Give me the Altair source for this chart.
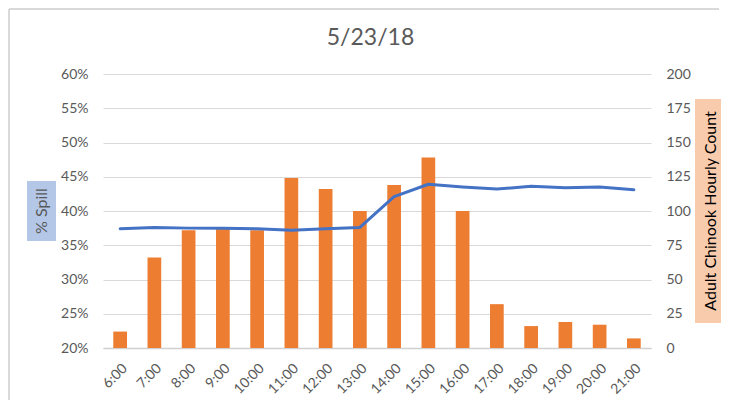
import altair as alt
import pandas as pd

hours = ["6:00", "7:00", "8:00", "9:00", "10:00", "11:00", "12:00", "13:00",
         "14:00", "15:00", "16:00", "17:00", "18:00", "19:00", "20:00", "21:00"]
chinook_count = [12, 66, 86, 87, 86, 124, 116, 100, 119, 139, 100, 32, 16, 19, 17, 7]
pct_spill = [37.4, 37.6, 37.5, 37.5, 37.4, 37.2, 37.4, 37.6, 42.1, 43.9, 43.5, 43.2,
             43.6, 43.4, 43.5, 43.1]
chart_title = "5/23/18"
left_title = "% Spill"
right_title = "Adult Chinook Hourly Count"

df = pd.DataFrame({"hour": hours, "count": chinook_count,
                   "spill": [v / 100 for v in pct_spill]})

FONT = "Lato"
GREY = "#595959"
W, H = 548, 274

x_enc = alt.X("hour:N", sort=hours, title=None,
              scale=alt.Scale(paddingInner=0.6, paddingOuter=0.3),
              axis=alt.Axis(labelAngle=-45, labelFont=FONT, labelFontSize=14,
                            labelColor=GREY, ticks=False, domainColor="#d0d0d0",
                            domainWidth=1.5, labelPadding=13, grid=False))

bars = alt.Chart(df).mark_bar(color="#ED7D31").encode(
    x=x_enc,
    y=alt.Y("count:Q", title=None,
            scale=alt.Scale(domain=[0, 200], nice=False),
            axis=alt.Axis(orient="right", values=list(range(0, 201, 25)),
                          labelFont=FONT, labelFontSize=14, labelColor=GREY,
                          ticks=False, domain=False, grid=False, labelPadding=15)),
)

line = alt.Chart(df).mark_line(color="#4472C4", strokeWidth=3, strokeCap="round",
                               strokeJoin="round").encode(
    x=alt.X("hour:N", sort=hours),
    y=alt.Y("spill:Q", title=None,
            scale=alt.Scale(domain=[0.2, 0.6], nice=False, zero=False),
            axis=alt.Axis(orient="left", values=[0.2, 0.25, 0.3, 0.35, 0.4, 0.45, 0.5, 0.55, 0.6],
                          format=".0%", labelFont=FONT, labelFontSize=14, labelColor=GREY,
                          ticks=False, domain=False, grid=True, gridColor="#d9d9d9",
                          gridWidth=1, labelPadding=15)),
)

one = pd.DataFrame({"t": [chart_title]})

frame_top = alt.Chart(one).mark_rule(color="#d9d9d9", strokeWidth=2).encode(
    x=alt.value(-94), x2=alt.value(616), y=alt.value(-65))
frame_left = alt.Chart(one).mark_rule(color="#d9d9d9", strokeWidth=2).encode(
    x=alt.value(-94), y=alt.value(-65), y2=alt.value(330))

left_box = alt.Chart(one).mark_rect(color="#b4c7e7").encode(
    x=alt.value(-76), x2=alt.value(-47), y=alt.value(107), y2=alt.value(167))
right_box = alt.Chart(one).mark_rect(color="#f8cbad").encode(
    x=alt.value(592), x2=alt.value(621), y=alt.value(25), y2=alt.value(249))

title_txt = alt.Chart(pd.DataFrame({"t": [chart_title]})).mark_text(
    font=FONT, fontSize=23, color=GREY, align="center", baseline="alphabetic").encode(
    text="t:N", x=alt.value(267.5), y=alt.value(-29))
left_txt = alt.Chart(pd.DataFrame({"t": [left_title]})).mark_text(
    font=FONT, fontSize=16, color=GREY, angle=270, align="center", baseline="middle").encode(
    text="t:N", x=alt.value(-61.5), y=alt.value(137))
right_txt = alt.Chart(pd.DataFrame({"t": [right_title]})).mark_text(
    font=FONT, fontSize=16, color="#000000", angle=270, align="center", baseline="middle").encode(
    text="t:N", x=alt.value(608), y=alt.value(137))

chart = alt.layer(bars, line, frame_top, frame_left, left_box, right_box,
                  title_txt, left_txt, right_txt).resolve_scale(
    y="independent"
).properties(
    width=W, height=H,
    autosize=alt.AutoSizeParams(type="none"),
    padding={"left": 95, "top": 66, "right": 70, "bottom": 52},
).configure_view(stroke=None)

chart.save("out.html", embed_options={"renderer": "svg", "actions": False})
